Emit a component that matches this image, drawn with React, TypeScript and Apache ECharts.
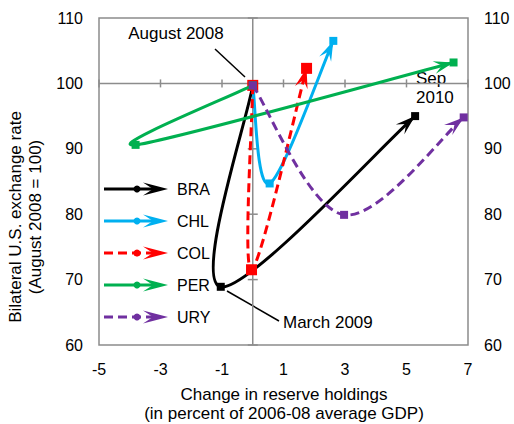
import React, { useEffect, useRef } from "react";
import * as echarts from "echarts";

// ---------- data ----------
const seriesNames = ["BRA", "CHL", "COL", "PER", "URY"];
// points: August 2008, trough (March 2009 / intermediate), September 2010
const braX = [0, -1.04, 5.28];
const braY = [99.7, 68.9, 95.0];
const chlX = [0, 0.55, 2.62];
const chlY = [99.7, 84.7, 106.5];
const colX = [0, -0.04, 1.75];
const colY = [99.7, 71.5, 102.3];
const perX = [0, -3.81, 6.53];
const perY = [99.7, 90.6, 103.2];
const uryX = [0, 2.97, 6.86];
const uryY = [99.7, 79.9, 94.8];

const xMin = -5;
const xMax = 7;
const xStep = 2;
const yMin = 60;
const yMax = 110;
const yStep = 10;
const crossX = 0;
const crossY = 100;
const xTicks = [-5, -3, -1, 1, 3, 5, 7];
const yTicks = [60, 70, 80, 90, 100, 110];

// ---------- styles ----------
const FONT = "'Liberation Sans', Arial, sans-serif";
const AXIS_GRAY = "#8c8c8c";
const styles: Record<string, { color: string; dash: number[] | null; marker: number }> = {
  BRA: { color: "#000000", dash: null, marker: 8 },
  CHL: { color: "#00B0F0", dash: null, marker: 8 },
  COL: { color: "#FF0000", dash: [9, 5], marker: 11 },
  PER: { color: "#00B050", dash: null, marker: 8 },
  URY: { color: "#7030A0", dash: [9, 5], marker: 8 },
};
const seriesData: Record<string, number[][]> = {
  BRA: braX.map((x, i) => [x, braY[i]]),
  CHL: chlX.map((x, i) => [x, chlY[i]]),
  COL: colX.map((x, i) => [x, colY[i]]),
  PER: perX.map((x, i) => [x, perY[i]]),
  URY: uryX.map((x, i) => [x, uryY[i]]),
};

// Excel-like smoothing (Catmull-Rom style bezier, tension 1/6), in pixel space
function smoothPath(pts: number[][]) {
  const f = 1 / 6;
  const n = pts.length;
  let d = `M${pts[0][0]},${pts[0][1]}`;
  let lastDir = [1, 0];
  for (let i = 0; i < n - 1; i++) {
    const p0 = pts[i === 0 ? 0 : i - 1];
    const p1 = pts[i];
    const p2 = pts[i + 1];
    const p3 = pts[i + 2 < n ? i + 2 : n - 1];
    const d12 = Math.hypot(p2[0] - p1[0], p2[1] - p1[1]);
    let ax = (p2[0] - p0[0]) * f;
    let ay = (p2[1] - p0[1]) * f;
    const la = Math.hypot(ax, ay);
    if (la > d12 / 2 && la > 0) {
      ax *= d12 / 2 / la;
      ay *= d12 / 2 / la;
    }
    let bx = (p3[0] - p1[0]) * f;
    let by = (p3[1] - p1[1]) * f;
    const lb = Math.hypot(bx, by);
    if (lb > d12 / 2 && lb > 0) {
      bx *= d12 / 2 / lb;
      by *= d12 / 2 / lb;
    }
    d += ` C${p1[0] + ax},${p1[1] + ay} ${p2[0] - bx},${p2[1] - by} ${p2[0]},${p2[1]}`;
    lastDir = [bx, by];
  }
  return { d, dir: lastDir };
}

function stealth(tip: number[], dir: number[], L: number, W: number) {
  const len = Math.hypot(dir[0], dir[1]) || 1;
  const ux = dir[0] / len;
  const uy = dir[1] / len;
  const nx = -uy;
  const ny = ux;
  const bx = tip[0] - ux * L;
  const by = tip[1] - uy * L;
  const mx = tip[0] - ux * L * 0.6;
  const my = tip[1] - uy * L * 0.6;
  return [
    [tip[0], tip[1]],
    [bx + nx * W, by + ny * W],
    [mx, my],
    [bx - nx * W, by - ny * W],
  ];
}

function makeCurveSeries(name: string) {
  const st = styles[name];
  const data = seriesData[name];
  return {
    type: "custom",
    name,
    z: 3,
    data,
    renderItem: (params: any, api: any) => {
      const i = params.dataIndex;
      const p = api.coord(data[i]);
      const s = st.marker;
      const marker = {
        type: "rect",
        shape: { x: p[0] - s / 2, y: p[1] - s / 2, width: s, height: s },
        style: { fill: st.color },
      };
      if (i !== 0) return marker;
      const px = data.map((v) => api.coord(v));
      const { d, dir } = smoothPath(px);
      const tip = px[px.length - 1];
      return {
        type: "group",
        children: [
          {
            type: "path",
            shape: { pathData: d },
            style: {
              fill: "none",
              stroke: st.color,
              lineWidth: 3,
              lineDash: st.dash || undefined,
            },
          },
          {
            type: "polygon",
            shape: { points: stealth(tip, dir, 20, 6.5) },
            style: { fill: st.color },
          },
          marker,
        ],
      };
    },
  };
}

const crossSeries = {
  type: "custom",
  name: "axes",
  z: 1,
  silent: true,
  data: [[crossX, crossY]],
  renderItem: (_params: any, api: any) => {
    const children: any[] = [];
    const h0 = api.coord([xMin, crossY]);
    const h1 = api.coord([xMax, crossY]);
    const v0 = api.coord([crossX, yMin]);
    const v1 = api.coord([crossX, yMax]);
    const ls = { stroke: AXIS_GRAY, lineWidth: 1.5 };
    children.push({ type: "line", shape: { x1: h0[0], y1: h0[1], x2: h1[0], y2: h1[1] }, style: ls });
    children.push({ type: "line", shape: { x1: v0[0], y1: v0[1], x2: v1[0], y2: v1[1] }, style: ls });
    xTicks.forEach((t) => {
      const c = api.coord([t, crossY]);
      children.push({ type: "line", shape: { x1: c[0], y1: c[1] - 4, x2: c[0], y2: c[1] + 4 }, style: ls });
    });
    yTicks.forEach((t) => {
      const c = api.coord([crossX, t]);
      children.push({ type: "line", shape: { x1: c[0] - 5, y1: c[1], x2: c[0] + 5, y2: c[1] }, style: ls });
    });
    return { type: "group", children };
  },
};

function legendGraphics() {
  const els: any[] = [];
  const rows = [189, 221, 253, 285, 317];
  seriesNames.forEach((name, i) => {
    const st = styles[name];
    const y = rows[i];
    els.push({
      type: "line",
      shape: { x1: 104, y1: y, x2: 160, y2: y },
      style: { stroke: st.color, lineWidth: 3, lineDash: st.dash || undefined },
    });
    els.push({ type: "circle", shape: { cx: 137, cy: y, r: 3.5 }, style: { fill: st.color } });
    els.push({
      type: "polygon",
      shape: { points: stealth([168, y], [1, 0], 25, 6.5) },
      style: { fill: st.color },
    });
    els.push({
      type: "text",
      x: 177,
      y,
      style: { text: name, fontSize: 16, fontFamily: FONT, fill: "#000", align: "left", verticalAlign: "middle" },
    });
  });
  return els;
}

function annotationGraphics() {
  const txt = (text: string, x: number, y: number, align = "left") => ({
    type: "text",
    x,
    y,
    style: { text, fontSize: 17, fontFamily: FONT, fill: "#000", align, verticalAlign: "middle", lineHeight: 19 },
  });
  return [
    txt("August 2008", 176, 33, "center"),
    { type: "line", shape: { x1: 215, y1: 49, x2: 245, y2: 77 }, style: { stroke: "#000", lineWidth: 1.5 } },
    txt("March 2009", 283, 322, "left"),
    { type: "line", shape: { x1: 227, y1: 291, x2: 279, y2: 321 }, style: { stroke: "#000", lineWidth: 1.5 } },
    txt("Sep\n2010", 416, 88, "left"),
    {
      type: "text",
      x: 284,
      y: 404,
      style: {
        text: "Change in reserve holdings\n(in percent of 2006-08 average GDP)",
        fontSize: 17,
        fontFamily: FONT,
        fill: "#000",
        align: "center",
        verticalAlign: "middle",
        lineHeight: 19,
      },
    },
    {
      type: "text",
      x: 25,
      y: 217,
      rotation: Math.PI / 2,
      style: {
        text: "Bilateral U.S. exchange rate\n(August 2008 = 100)",
        fontSize: 17,
        fontFamily: FONT,
        fill: "#000",
        align: "center",
        verticalAlign: "middle",
        lineHeight: 20,
      },
    },
  ];
}

export default function App() {
  const ref = useRef<HTMLDivElement>(null);
  useEffect(() => {
    if (!ref.current) return;
    const chart = echarts.init(ref.current, undefined, { renderer: "svg" });
    const yAxisBase = {
      type: "value",
      min: yMin,
      max: yMax,
      interval: yStep,
      axisLine: { show: false },
      axisTick: { show: false },
      splitLine: { show: false },
      axisLabel: { fontSize: 16, fontFamily: FONT, color: "#000", margin: 16 },
    };
    chart.setOption({
      animation: false,
      backgroundColor: "#ffffff",
      textStyle: { fontFamily: FONT },
      grid: {
        left: 99,
        right: 46,
        top: 18,
        bottom: 79,
        show: true,
        borderColor: AXIS_GRAY,
        borderWidth: 1.5,
        backgroundColor: "transparent",
      },
      xAxis: {
        type: "value",
        min: xMin,
        max: xMax,
        interval: xStep,
        axisLine: { show: false },
        axisTick: { show: false },
        splitLine: { show: false },
        axisLabel: { fontSize: 16, fontFamily: FONT, color: "#000", margin: 16 },
      },
      yAxis: [
        { ...yAxisBase, position: "left" },
        { ...yAxisBase, position: "right" },
      ],
      series: [crossSeries, ...seriesNames.map(makeCurveSeries)],
      graphic: { elements: [...legendGraphics(), ...annotationGraphics()] },
    });
    return () => chart.dispose();
  }, []);
  return (
    <div
      ref={ref}
      style={{ position: "fixed", left: 0, top: 0, width: 514, height: 424, background: "#fff" }}
    />
  );
}
